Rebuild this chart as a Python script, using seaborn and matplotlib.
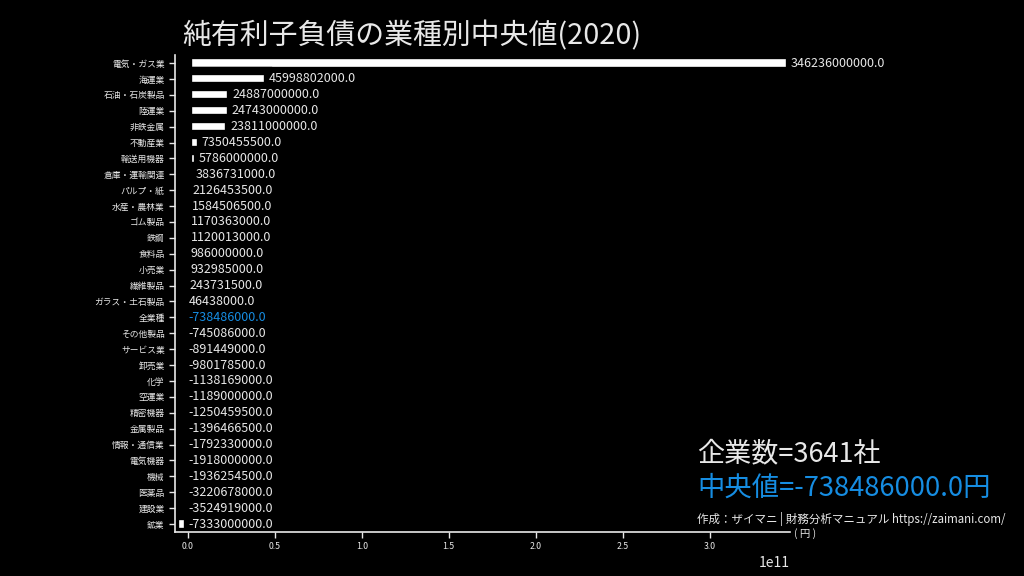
import seaborn as sns
import matplotlib.pyplot as plt
import pandas as pd

industries = ['電気・ガス業', '海運業', '石油・石炭製品', '陸運業', '非鉄金属', '不動産業',
              '輸送用機器', '倉庫・運輸関連', 'パルプ・紙', '水産・農林業', 'ゴム製品', '鉄鋼',
              '食料品', '小売業', '繊維製品', 'ガラス・土石製品', '全業種', 'その他製品',
              'サービス業', '卸売業', '化学', '空運業', '精密機器', '金属製品', '情報・通信業',
              '電気機器', '機械', '医薬品', '建設業', '鉱業']
medians = [346236000000.0, 45998802000.0, 24887000000.0, 24743000000.0, 23811000000.0,
           7350455500.0, 5786000000.0, 3836731000.0, 2126453500.0, 1584506500.0,
           1170363000.0, 1120013000.0, 986000000.0, 932985000.0, 243731500.0,
           46438000.0, -738486000.0, -745086000.0, -891449000.0, -980178500.0,
           -1138169000.0, -1189000000.0, -1250459500.0, -1396466500.0, -1792330000.0,
           -1918000000.0, -1936254500.0, -3220678000.0, -3524919000.0, -7333000000.0]
highlight = '全業種'
company_count = 3641
overall_median = -738486000.0

blue = '#168de2'
fg = '#e8e8e8'

sns.set_style('dark', {'axes.facecolor': 'black', 'figure.facecolor': 'black'})
plt.rcParams['font.family'] = ['Noto Sans CJK JP', 'DejaVu Sans']

df = pd.DataFrame({'industry': industries, 'median': medians})

fig = plt.figure(figsize=(10.24, 5.76), dpi=100)
ax = fig.add_axes([0.171, 0.0764, 0.6005, 0.828])

sns.barplot(data=df, x='median', y='industry', orient='h', color='white',
            edgecolor='black', linewidth=6.0, width=0.95, saturation=1, ax=ax)

for i, (name, v) in enumerate(zip(industries, medians)):
    c = blue if name == highlight else fg
    ax.text(max(v, 0) + 0.5e9, i, f'{v:.1f}', color=c, fontsize=9,
            ha='left', va='center')

ax.set_xlim(min(medians), max(medians))
ax.set_ylim(len(industries) - 0.5, -0.5)
ax.set_xlabel('')
ax.set_ylabel('')
ax.grid(False)

for s in ['top', 'right']:
    ax.spines[s].set_visible(False)
for s in ['left', 'bottom']:
    ax.spines[s].set_visible(True)
    ax.spines[s].set_color(fg)
    ax.spines[s].set_linewidth(1.2)

ax.tick_params(axis='y', colors=fg, labelsize=6.3, length=4, width=1, left=True)
ax.tick_params(axis='x', colors=fg, labelsize=6.3, length=4, width=1, bottom=True)
ax.xaxis.get_offset_text().set_fontsize(10)
ax.xaxis.get_offset_text().set_color(fg)

fig.text(0.178, 0.937, '純有利子負債の業種別中央値(2020)', color=fg, fontsize=20.8,
         ha='left', va='center')
ax.text(1.007, -0.004, '( 円 )', transform=ax.transAxes, color=fg, fontsize=7.5,
        ha='left', va='center')
fig.text(0.681, 0.213, f'企業数={company_count}社', color=fg, fontsize=19.5,
         ha='left', va='center')
fig.text(0.681, 0.152, f'中央値={overall_median:.1f}円', color=blue, fontsize=19.7,
         ha='left', va='center')
fig.text(0.681, 0.099, '作成：ザイマニ | 財務分析マニュアル https://zaimani.com/', color=fg,
         fontsize=8.3, ha='left', va='center')

fig.savefig('out.png', dpi=100, facecolor='black')
